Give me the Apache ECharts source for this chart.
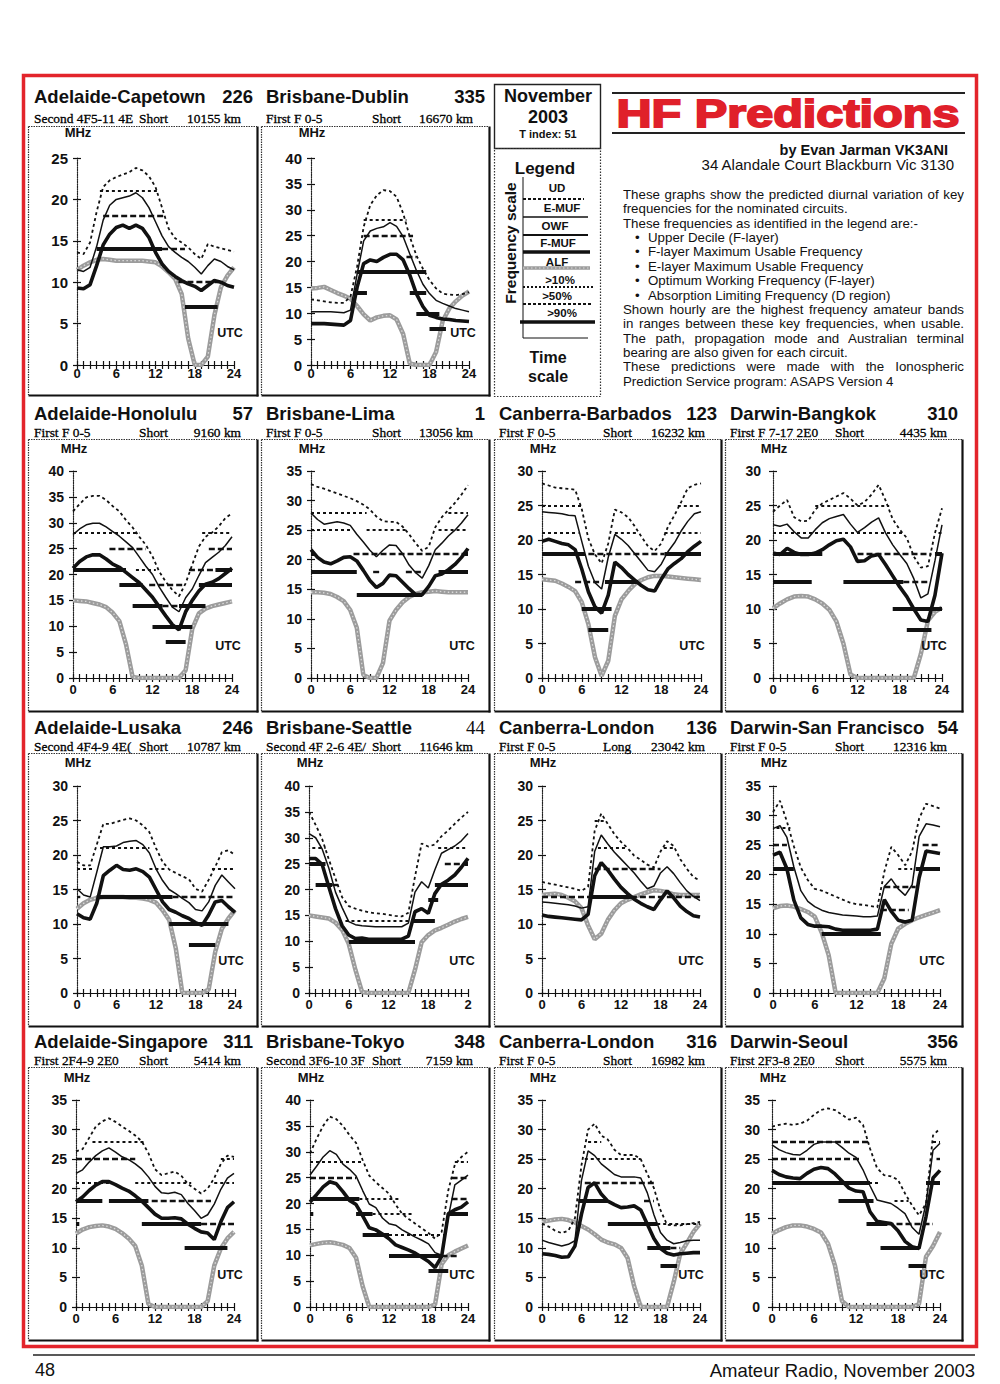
<!DOCTYPE html>
<html>
<head>
<meta charset="utf-8">
<title>HF Predictions</title>
<script src="https://cdn.jsdelivr.net/npm/echarts@6/dist/echarts.min.js"></script>
<style>
html,body{margin:0;padding:0;background:#ffffff;}
#chart{position:absolute;left:0;top:0;width:1000px;height:1384px;}
#notes{position:absolute;left:623px;top:188px;width:341px;font-family:"Liberation Sans",Arial,Helvetica,sans-serif;font-size:13.3px;line-height:14.36px;color:#111;z-index:5;}
#notes div{position:relative;white-space:nowrap;height:14.36px;}
#notes div.j{text-align:justify;text-align-last:justify;white-space:normal;overflow:hidden;}
#notes div.b{padding-left:25px;}
#notes div.b span{position:absolute;left:12px;top:0;}
</style>
</head>
<body>
<div id="chart"></div>
<div id="notes">
<div class="j">These graphs show the predicted diurnal variation of key</div>
<div>frequencies for the nominated circuits.</div>
<div>These frequencies as identified in the legend are:-</div>
<div class="b"><span>•</span>Upper Decile (F-layer)</div>
<div class="b"><span>•</span>F-layer Maximum Usable Frequency</div>
<div class="b"><span>•</span>E-layer Maximum Usable Frequency</div>
<div class="b"><span>•</span>Optimum Working Frequency (F-layer)</div>
<div class="b"><span>•</span>Absorption Limiting Frequency (D region)</div>
<div class="j">Shown hourly are the highest frequency amateur bands</div>
<div class="j">in ranges between these key frequencies, when usable.</div>
<div class="j">The path, propagation mode and Australian terminal</div>
<div>bearing are also given for each circuit.</div>
<div class="j">These predictions were made with the Ionospheric</div>
<div>Prediction Service program: ASAPS Version 4</div>
</div>
<script>
// ---------------- DATA ----------------
const HOURS = [0,1,2,3,4,5,6,7,8,9,10,11,12,13,14,15,16,17,18,19,20,21,22,23,24];
const X_TICK_LABELS = ['0','6','12','18','24'];
const X_TICK_LABELS_SEATTLE = ['0','6','12','18','2'];

const ROUTES = ['Adelaide-Capetown','Brisbane-Dublin','Adelaide-Honolulu','Brisbane-Lima','Canberra-Barbados','Darwin-Bangkok','Adelaide-Lusaka','Brisbane-Seattle','Canberra-London','Darwin-San Francisco','Adelaide-Singapore','Brisbane-Tokyo','Canberra-London','Darwin-Seoul'];
const BEARINGS = ['226','335','57','1','123','310','246','44','136','54','311','348','316','356'];
const MODES = ['Second 4F5-11 4E','First F 0-5','First F 0-5','First F 0-5','First F 0-5','First F 7-17 2E0','Second 4F4-9 4E(','Second 4F 2-6 4E/','First F 0-5','First F 0-5','First 2F4-9 2E0','Second 3F6-10 3F','First F 0-5','First 2F3-8 2E0'];
const PATHS = ['Short','Short','Short','Short','Short','Short','Short','Short','Long','Short','Short','Short','Short','Short'];
const DISTANCES = ['10155 km','16670 km','9160 km','13056 km','16232 km','4435 km','10787 km','11646 km','23042 km','12316 km','5414 km','7159 km','16982 km','5575 km'];
const AXIS_MAX = [25,40,40,35,30,30,30,40,30,35,35,40,35,35];

// band segments: [band MHz, from hour, to hour, level 1=>10% 2=>50% 3=>90%]
const CAPETOWN_UD = [13.6,13.4,14.8,18.5,21.5,22.3,22.7,23,23.3,23.8,23.5,22.8,21.5,19,16.5,15.3,14.8,14.2,13.4,12.8,14.6,14.3,14.1,13.9,13.7];
const CAPETOWN_FMUF = [11.5,11.3,11.8,14.3,17.5,19.3,20,20.2,20.4,20.8,20.2,19,17.3,15.6,14.3,13.6,13,12.5,11.8,11,12,12.8,12.5,11.9,11.5];
const CAPETOWN_OWF = [9.3,9.2,9.7,12,14.5,15.8,16.6,16.9,16.5,16.9,16.5,15.4,13.6,12.2,11.3,10.7,10.2,9.8,9.5,9,9.6,10.2,10,9.6,9.4];
const CAPETOWN_ALF = [11.5,12,12.4,12.7,12.8,12.7,12.6,12.6,12.6,12.6,12.6,12.5,12.4,11.9,11.2,10.4,8.6,3.2,0,0,1,6,9.4,10.8,11.8];
const CAPETOWN_BANDS = [[21,3.5,12.5,1],[18,4,13.5,2],[14,3,13,3],[14,13,16.5,2],[10,15.5,21.5,2],[7,16.5,21.5,3]];

const DUBLIN_UD = [12.7,12.5,12.3,12.1,12,12,13.2,19,26.7,30.9,32.8,33.8,33.6,32.5,29.3,24.8,21.2,18.6,16.4,14.8,13.8,13.6,13.5,13.7,14.1];
const DUBLIN_FMUF = [10.3,10.3,10.3,10.3,10.2,10.1,10.6,17.5,24,25.9,26.4,26.7,27.5,26.8,24.8,21.5,18.3,15.6,13.8,12.5,11.9,11.4,10.9,10.6,10.3];
const DUBLIN_OWF = [8,8,8,7.9,7.8,7.7,8.6,15,19.6,20.3,20,20.8,21.4,21.4,20.3,17.4,13.8,11.3,9.6,9.2,8.9,8.8,8.6,8.5,8.4];
const DUBLIN_ALF = [14.8,14.9,15.1,14.5,13.9,13.4,12.8,11.4,9.8,8.6,9.2,9.5,9.6,8.8,6,0.3,0,0,0,2.5,8.5,10.9,12.3,13.4,14.2];
const DUBLIN_BANDS = [[28,8,14.5,1],[25,8,15.5,2],[21,14.5,16,2],[18,7,17.5,3],[14,6.5,8.5,3],[14,15,17.5,3],[10,16,19.5,3],[7,18,20.5,3]];

const HONOLULU_UD = [32.2,33.6,34.9,35.2,35.2,34.4,33.2,32.2,30.5,29.1,27.3,25.7,23.5,20.6,18.6,17,15.8,18.3,21.9,25.4,27.3,28.1,29.3,30.9,31.8];
const HONOLULU_FMUF = [27.7,28.8,29.6,29.9,29.9,29.2,28.3,27.4,26.3,25.2,23.4,21.6,20,17.6,15.6,13.7,12.8,15.5,17.2,19.8,22.3,23.3,24.3,25.6,27.3];
const HONOLULU_OWF = [21.2,22.5,23.4,23.8,23.8,23,22,21.4,20.4,19.4,18.4,17,15.6,13.8,12,10.3,9.3,12.8,15,16.8,18.1,18.5,19.2,20.2,21.2];
const HONOLULU_ALF = [15,14.9,14.8,14.5,14.2,13.7,12.6,11,6.5,0.2,0,0,0,0,0,0,0,1.5,9.5,12.5,13.4,13.9,14.2,14.5,14.8];
const HONOLULU_BANDS = [[28,0,10,1],[28,19.5,24,1],[25,5.5,11,2],[25,20.5,24,2],[21,0,8,3],[21,9.5,12.5,1],[21,17.5,21.5,2],[21,21.5,24,3],[18,7,10.5,3],[18,11.5,16.5,2],[18,19,24,3],[14,9,13.5,3],[14,13.5,16,2],[14,16,20,3],[10,12,18,3],[7,14,17,3]];

const LIMA_UD = [32.8,32.3,32,31.6,31.2,30.8,30.4,29.9,29.3,28.5,27.3,26.5,26.4,26.4,25.6,24.3,22.8,21.5,22.2,25.5,27.2,28.4,29.6,31,32.6];
const LIMA_FMUF = [27.9,26.8,26,26.2,26.4,26.2,25.8,24.3,23,21.6,20.5,21.6,22.5,22.4,21,19.1,17.8,16.9,19,21.7,22.8,24,25,26.2,27.6];
const LIMA_OWF = [21.7,20.4,19.6,19.3,19.8,20.4,20.5,19.8,18.2,16.5,15.3,16,17.4,17.3,16.2,15.1,14.1,14.1,15.5,17.3,17.6,18.3,19.2,20.4,21.9];
const LIMA_ALF = [14.5,14.5,14.4,14.2,13.7,13,11.5,8.5,0.5,0,0,2.5,9.7,11.5,12.8,13.7,14.2,14.5,14.6,14.7,14.6,14.5,14.5,14.5,14.5];
const LIMA_BANDS = [[28,0,8.5,1],[28,21,24,1],[25,0,6,1],[25,8.5,14.5,1],[25,19.5,24,1],[21,0,0.5,3],[21,6.5,23.5,2],[21,23.5,24,3],[18,0,7,3],[18,9.5,10.5,2],[18,14.5,17,2],[18,19.5,24,3],[14,7,17,3]];

const BARBADOS_UD = [28.2,27.9,27.6,27.5,27.4,27.3,24.5,20.2,17.9,16.6,19.5,24.4,24,23.3,22,20.5,19.1,18.4,19.5,21.9,23.6,25.5,27.5,28,28.2];
const BARBADOS_FMUF = [24.1,24,23.9,23.8,23.6,23.5,19.8,16.2,13.8,12.9,17.5,20.8,20.1,19.2,18,16.8,15.6,15.4,16.5,18.3,19.6,21.3,22.7,23.8,24.1];
const BARBADOS_OWF = [19.8,20.1,19.8,19.5,19.3,18.6,15.8,12.5,10.3,9.4,12,16.8,16,15,14.2,13.4,12.8,12.6,14.3,15.8,16.6,17.3,18.3,19.1,19.8];
const BARBADOS_ALF = [14.3,14.2,14.1,13.7,13.2,12.6,11,7.8,3,0.3,2.5,9,11.4,12.6,13.6,14.2,14.6,14.8,14.8,14.7,14.6,14.5,14.4,14.3,14.2];
const BARBADOS_BANDS = [[25,0,6,1],[25,20.5,24,1],[21,0,5.5,1],[21,11,14.5,1],[21,18.5,24,1],[18,0,6.5,3],[18,7,18.5,2],[18,18.5,24,3],[14,5,9,2],[14,9.5,14.5,3],[10,6,10.5,3],[7,7,10,3]];

const BANGKOK_UD = [24.1,25,25.8,23.3,22.7,22.8,24.4,25.3,25.8,26.3,26.8,26,25,25.5,26.6,28,25.7,23,21.5,20.3,17.6,16,16.2,21,24.6];
const BANGKOK_FMUF = [22.2,22,22.3,21.2,20.3,20.3,21.5,22.5,23.1,23.4,23.7,22.3,21.1,21.8,22.6,23.2,21,19.3,17.9,16.6,14.4,11.6,12.2,17,22.2];
const BANGKOK_OWF = [18.1,17.9,18.8,18.2,17.9,17.9,18.1,18.6,19.3,19.9,20.1,19,16.9,17,17.7,17.9,16.4,14.8,13.2,11.8,10,8.4,8.2,12,18.1];
const BANGKOK_ALF = [10.1,10.8,11.4,11.8,11.9,11.8,11.4,10.8,9.9,8.2,5,0.5,0,0,0,0,0,0,0,0,0,3.5,8.3,9.6,10.2];
const BANGKOK_BANDS = [[25,6,16.5,1],[21,0,18.5,1],[21,23.5,24,1],[18,0,7,3],[18,12,22.5,2],[18,23,24,3],[14,0,5.5,3],[14,10,18.5,3],[14,18.5,22,2],[10,17,24,3],[7,19,22.5,3]];

const LUSAKA_UD = [19,18.5,18.5,21.5,24.5,24.5,24.8,25.1,25.3,25,24.3,23.3,21,19,17.9,17.4,16.9,16.5,15.1,14.7,16.4,18.3,20.4,20.7,20];
const LUSAKA_FMUF = [15.1,14.2,13.9,17.5,21.2,21.2,21.3,21.8,22,22.1,21.5,20.3,18,16.3,15,14.4,13.7,13.1,12.1,11.9,13.2,15.6,17.1,16.1,15.1];
const LUSAKA_OWF = [11.5,10.9,10.7,13,17,17.8,18.5,17.9,17.8,18,17.6,16.8,15,13.2,12.1,11.7,11.2,10.8,10.2,9.8,11.3,13.2,13.4,12.5,11.7];
const LUSAKA_ALF = [12.2,13,13.5,13.8,13.9,13.9,13.9,13.9,13.8,13.8,13.7,13.5,13.1,12,10.6,6.5,0,0,0,0,0.5,6,9.3,10.8,12];
const LUSAKA_BANDS = [[21,3.5,11,1],[18,0,2.5,1],[18,11,13.5,1],[18,20.5,24,1],[14,0,0.5,2],[14,3,14.5,3],[14,14.5,24,2],[10,14,23,3],[7,17,21,3]];

const SEATTLE_UD = [35,32.5,29.7,25.8,22.1,18.5,16.8,16.3,15.9,15.6,15.4,15.3,15.1,14.9,14.8,15.5,22.5,28.9,28.3,28.7,30.3,31.4,32.7,33.9,35];
const SEATTLE_FMUF = [30.8,30,27.8,24.1,19.5,16.5,13.8,13.2,13,12.9,12.8,12.8,12.8,12.8,12.8,13.5,19.5,21.5,20.3,23.8,27,27.7,28.4,29.4,30.8];
const SEATTLE_OWF = [26,26,24.8,20.5,16.3,13,11.2,10.5,10.6,10.4,10.4,10.4,10.4,10.4,10.4,11,15.7,16.3,15.4,19.2,21,21.8,22.8,24.3,26];
const SEATTLE_ALF = [15,14.8,14.6,14.4,13.6,12.2,9.5,4.5,0.2,0,0,0,0,0,0,0,4.5,9.8,11.2,12.1,12.6,13.2,13.8,14.3,14.7];
const SEATTLE_BANDS = [[28,0.5,2.5,1],[28,19.5,24,1],[25,0,2.5,3],[25,20.5,23.5,2],[25,23.5,24,3],[21,1,3.5,3],[21,3.5,4.5,2],[21,19,24,3],[18,18,19.5,3],[14,5.5,15.5,1],[14,15.5,19,3],[10,6,16,3]];

const LONDON_LP_UD = [16.1,15.9,15.7,15.5,15.3,15.1,14.8,15.4,23.5,26,24.5,23,21.9,21,19.9,19.3,18.6,18.2,20.5,22,21.3,19.4,18,16.8,16.3];
const LONDON_LP_FMUF = [13.2,13.1,13,12.9,12.8,12.6,12.3,12.5,20.5,22.9,21.6,20.4,19.4,18.4,17.4,16.2,15.1,15.5,17.4,18.3,17.3,16,14.8,14,13.4];
const LONDON_LP_OWF = [11.3,11.1,11,10.9,10.8,10.7,10.6,11.4,17,18.9,17.8,16.5,15.3,14.4,13.6,13,12.5,12.1,13.5,14.8,13.8,12.6,11.8,11.2,11];
const LONDON_LP_ALF = [14.2,14.3,14.4,14.2,13.8,13.3,12.3,9.8,7.8,8.6,10.6,12,13,13.5,13.9,14.3,14.6,14.9,14.8,14.6,14.3,14.2,14.2,14.2,14.2];
const LONDON_LP_BANDS = [[25,8,9.5,1],[21,8.5,13,1],[21,18.5,20,1],[18,8,18,2],[14,0,7.5,2],[14,7.5,13.5,3],[14,13.5,24,2]];

const SANFRAN_UD = [30.6,32.5,29,24.8,21.2,19.1,17.6,17.3,16.8,16.3,15.8,15.3,15,14.9,14.7,14.5,20.5,24.7,23.3,21.6,24,29.5,32,31.6,31.2];
const SANFRAN_FMUF = [27.8,28.3,26.3,21.3,17.3,15.5,14.6,14,13.6,13.4,13.2,13.1,13,12.9,12.9,13,18,19.3,17.6,16.5,18.3,26.5,28.6,28.4,28.1];
const SANFRAN_OWF = [23.3,23.8,21,15.7,12.7,11.6,11.3,11.3,11.2,10.8,10.6,10.6,10.6,10.6,10.6,10.8,15.8,13.8,12.3,12,12.3,19.5,24,23.8,23.6];
const SANFRAN_ALF = [14.3,14.7,14.8,14.6,14.2,13.7,12.9,10.2,6.4,0,0,0,0,0,0,0,2.5,8.3,10.9,11.7,12.3,12.8,13.2,13.6,14];
const SANFRAN_BANDS = [[28,0.5,2.5,1],[25,0,2,2],[25,21.5,24,2],[21,0,3,3],[21,18,20,1],[21,20.5,24,3],[18,16,20.5,2],[14,15.5,19.5,2],[10,7,15.5,3]];

const SINGAPORE_UD = [26.3,26.7,28.6,30.5,31.4,31.9,31.3,30.5,29.8,29,28,26,23.3,22.3,22.6,22.9,22.2,20.8,20,19.2,20,21.8,24.2,25.6,25.4];
const SINGAPORE_FMUF = [22.6,23.2,24.5,25.6,26.4,26.9,26.2,25.4,24.9,24.2,23.3,22,20.4,19.3,19.2,19.4,19,17.5,16.3,15,15.6,17.4,19.9,21.8,22.6];
const SINGAPORE_OWF = [17.8,18.6,19.7,20.6,21.2,21.2,20.7,20.1,19.6,18.8,17.9,16.8,15.7,15,15,15.1,14.9,14,13.3,12.7,12.5,11.4,14.4,16.8,17.8];
const SINGAPORE_ALF = [12.4,13.1,13.5,13.7,13.8,13.6,13.2,12.5,11.6,10.3,7,0.5,0,0,0,0,0,0,0,0,1,7,9.9,11.6,12.7];
const SINGAPORE_BANDS = [[28,2.5,10.5,1],[25,0,9,2],[25,22,24,1],[21,0,5,1],[21,9,17.5,1],[21,21,24,1],[18,0,4,3],[18,5,11,3],[18,11.5,20.5,2],[14,0,0.5,3],[14,10,19,3],[14,19,24,2],[10,16.5,23,3]];

const TOKYO_UD = [29.7,32.5,35,36.8,36.3,35,33.2,31.7,28.4,25.4,24.1,23,21.9,19.8,18,17,16.1,15.2,14.3,13.2,14.5,22.5,27.5,29,30];
const TOKYO_FMUF = [25.5,27.2,29,30.2,29.5,27.6,26.6,25.3,22.5,19.9,19.2,17.2,16.1,15.8,14.9,14.2,13.5,12.9,12.2,10.5,10,17.3,23.6,24.5,25.5];
const TOKYO_OWF = [20.3,21.7,23.2,24.2,23.8,22.3,20.6,19.8,17.6,15.3,14.9,14.1,13.2,12,11.5,11,10.4,9.6,8.8,7.6,9.8,18,18.8,19.3,20.3];
const TOKYO_ALF = [11.9,12.2,12.4,12.5,12.3,12,11.4,9.5,4,0,0,0,0,0,0,0,0,0,0,0.5,8.3,10,10.7,11.3,11.9];
const TOKYO_BANDS = [[28,0,8,1],[28,22,24,1],[25,0,7,2],[25,21.5,24,2],[21,0,7.5,3],[21,7.5,13.5,1],[21,21.5,24,2],[18,0,0.5,3],[18,7,9.5,3],[18,9.5,15.5,1],[18,21,24,3],[14,8,12,3],[14,12,20.5,1],[10,12,20,3],[10,20,22.5,2],[7,18,21,3]];

const LONDON_SP_UD = [14.1,13.6,12.9,12.5,12.9,15,24,30,31,29,28.3,26.6,25.7,25.7,25.7,25,22.5,20.1,16.4,13.9,13.8,13.8,14,14.2,14.4];
const LONDON_SP_FMUF = [11.3,10.9,10.6,10.3,10.6,11.2,21.4,26.4,25.6,24.2,23.3,22.4,22,22,22,21.8,19.3,15.6,12.6,11.3,10.7,10.9,11.2,11.3,11.3];
const LONDON_SP_OWF = [9,8.9,8.7,8.4,8.5,10.3,15.7,20.2,21,19.1,17.9,17.3,16.8,16.9,17.1,16.4,14,11.6,9.9,9.1,8.8,9,9.1,9.2,9.2];
const LONDON_SP_ALF = [14.4,14.6,14.8,14.9,14.7,14.3,13.7,13.1,12.3,11.4,10.9,10.6,10,8.3,3.5,0,0,0,0,0,4.2,9,10.8,12.7,14.1];
const LONDON_SP_BANDS = [[28,7,9,1],[25,6.5,15,1],[21,6.5,17,2],[18,5.5,10,3],[18,15.5,17,2],[14,10,17.5,3],[14,17.5,24,1],[10,16,19.5,3],[10,19.5,21,2],[7,18,20.5,3]];

const SEOUL_UD = [30.5,30.8,31,30.8,31,31.5,32.5,33.3,33.6,33.3,32.5,31.7,32,30.8,26.8,23.5,22.3,22.1,21.5,19.2,17.2,15.5,17.5,29,30.2];
const SEOUL_FMUF = [27.4,26.6,26.1,25.8,25.7,26.5,27.5,27.9,27.9,27.9,27,26,25.3,23.2,20.5,18.1,17.8,17.5,16.7,15.8,13.5,12.3,17.5,26.5,27.7];
const SEOUL_OWF = [23.1,22.4,22,21.8,21.7,22.6,23.3,23.6,23.4,22.5,21.3,20.1,19.6,19.5,16.1,14.5,14.3,14.1,12.9,11.1,10.2,9.9,15.3,21.8,23.1];
const SEOUL_ALF = [12.4,13,13.5,13.8,13.8,13.6,13.2,12.6,10.7,7,1,0,0,0,0,0,0,0,0,0,0,0.5,8.5,10.3,12.7];
const SEOUL_BANDS = [[28,0,14,2],[28,23,24,1],[25,0,12.5,2],[25,23.5,24,2],[21,0,14,3],[21,13,15.5,1],[21,22,24,3],[18,9.5,14.5,3],[18,17.5,19.5,1],[14,13.5,16.5,3],[14,16.5,23,2],[10,15.5,21,3],[7,19.5,22,3]];

// ---------------- TABLE built from the arrays ----------------
const UD_SET = [CAPETOWN_UD,DUBLIN_UD,HONOLULU_UD,LIMA_UD,BARBADOS_UD,BANGKOK_UD,LUSAKA_UD,SEATTLE_UD,LONDON_LP_UD,SANFRAN_UD,SINGAPORE_UD,TOKYO_UD,LONDON_SP_UD,SEOUL_UD];
const FMUF_SET = [CAPETOWN_FMUF,DUBLIN_FMUF,HONOLULU_FMUF,LIMA_FMUF,BARBADOS_FMUF,BANGKOK_FMUF,LUSAKA_FMUF,SEATTLE_FMUF,LONDON_LP_FMUF,SANFRAN_FMUF,SINGAPORE_FMUF,TOKYO_FMUF,LONDON_SP_FMUF,SEOUL_FMUF];
const OWF_SET = [CAPETOWN_OWF,DUBLIN_OWF,HONOLULU_OWF,LIMA_OWF,BARBADOS_OWF,BANGKOK_OWF,LUSAKA_OWF,SEATTLE_OWF,LONDON_LP_OWF,SANFRAN_OWF,SINGAPORE_OWF,TOKYO_OWF,LONDON_SP_OWF,SEOUL_OWF];
const ALF_SET = [CAPETOWN_ALF,DUBLIN_ALF,HONOLULU_ALF,LIMA_ALF,BARBADOS_ALF,BANGKOK_ALF,LUSAKA_ALF,SEATTLE_ALF,LONDON_LP_ALF,SANFRAN_ALF,SINGAPORE_ALF,TOKYO_ALF,LONDON_SP_ALF,SEOUL_ALF];
const BAND_SET = [CAPETOWN_BANDS,DUBLIN_BANDS,HONOLULU_BANDS,LIMA_BANDS,BARBADOS_BANDS,BANGKOK_BANDS,LUSAKA_BANDS,SEATTLE_BANDS,LONDON_LP_BANDS,SANFRAN_BANDS,SINGAPORE_BANDS,TOKYO_BANDS,LONDON_SP_BANDS,SEOUL_BANDS];

// ---------------- LAYOUT (positions only) ----------------
const SANS = '"Liberation Sans", Arial, Helvetica, sans-serif';
const SERIF = '"Liberation Serif", "Times New Roman", serif';
const PANEL_RC = [[0,0],[0,1],[1,0],[1,1],[1,2],[1,3],[2,0],[2,1],[2,2],[2,3],[3,0],[3,1],[3,2],[3,3]];
const GRID_LW = [[77,157],[311,158],[73,159],[311,157],[542,159],[773,169],[77,158],[309,159],[542,158],[773,167],[76,158],[310,158],[542,158],[772,168]];
const GRID_TOP = [158,471,786,1100];
const GRID_H = 207;
const BOX_X = [28,261,494,725], BOX_W = [229,228,227,237];
const BOX_Y = [126,439,753,1067], BOX_H = [269,272,273,273];
const TITLE_X = [34,266,499,730], NUM_R = [253,485,717,958], PATH_X = [139,372,603,835], KM_R = [241,473,705,947];
const TITLE_Y = [96,413,727,1041], SUB_Y = [118,432,746,1060];
const MHZ_DY = [26,23,24,23];
const UTC_DX = [-4,-6,-9,-8];

const BAND_STYLE = {
  1: {color:'#111', width:2, type:[3,3]},
  2: {color:'#111', width:2.4, type:[6,3]},
  3: {color:'#111', width:4, type:'solid'}
};

const G = [];
function T(x, y, text, font, align, extra) {
  const el = {type:'text', x:x, y:y, z:50, silent:true,
    style:{text:text, font:font, fill:'#111', align:align||'left', verticalAlign:'middle', textAlign:align||'left', textVerticalAlign:'middle'}};
  if (extra) { Object.assign(el, extra.el||{}); Object.assign(el.style, extra.style||{}); }
  G.push(el);
}
function L(x1,y1,x2,y2,style,z) {
  G.push({type:'line', silent:true, z:z||10, shape:{x1:x1,y1:y1,x2:x2,y2:y2}, style:Object.assign({stroke:'#111', lineWidth:1}, style||{})});
}
function R(x,y,w,h,style,z) {
  G.push({type:'rect', silent:true, z:z||1, shape:{x:x,y:y,width:w,height:h}, style:Object.assign({fill:'none', stroke:'#222', lineWidth:1}, style||{})});
}

const grids = [], xAxes = [], yAxes = [], series = [];
for (let i = 0; i < ROUTES.length; i++) {
  const r = PANEL_RC[i][0], c = PANEL_RC[i][1];
  const gl = GRID_LW[i][0], gw = GRID_LW[i][1], gt = GRID_TOP[r];
  grids.push({left:gl, top:gt, width:gw, height:GRID_H, containLabel:false});
  const labs = (i === 7) ? X_TICK_LABELS_SEATTLE : X_TICK_LABELS;
  xAxes.push({type:'value', gridIndex:i, min:0, max:24, interval:1, position:'bottom',
    axisLine:{show:true, onZero:false, lineStyle:{color:'#111', width:1.2}},
    axisTick:{show:true, length:4, lineStyle:{color:'#111', width:1.2}},
    axisLabel:{show:true, margin:(r===0?2:5), color:'#111', fontFamily:SANS, fontWeight:'bold', fontSize:13,
      formatter:function(v){ return (v % 6 === 0) ? labs[v/6] : ''; }},
    splitLine:{show:false}});
  xAxes.push({type:'value', gridIndex:i, min:0, max:24, interval:1, position:'bottom',
    axisLine:{show:false}, axisTick:{show:true, inside:true, length:4, lineStyle:{color:'#111', width:1.2}},
    axisLabel:{show:false}, splitLine:{show:false}});
  yAxes.push({type:'value', gridIndex:i, min:0, max:AXIS_MAX[i], interval:5, position:'left',
    axisLine:{show:true, onZero:false, lineStyle:{color:'#222', width:1.2, type:'dotted'}},
    axisTick:{show:true, length:4, lineStyle:{color:'#111', width:1.2}},
    axisLabel:{margin:(c===3?12:9), color:'#111', fontFamily:SANS, fontWeight:'bold', fontSize:(r===0?15:14)},
    splitLine:{show:false}});
  yAxes.push({type:'value', gridIndex:i, min:0, max:AXIS_MAX[i], interval:5, position:'left',
    axisLine:{show:false}, axisTick:{show:true, inside:true, length:4, lineStyle:{color:'#111', width:1.2}},
    axisLabel:{show:false}, splitLine:{show:false}});

  const xi = 2*i, yi = 2*i;
  const pts = function(arr){ return HOURS.map(function(h,k){ return [h, arr[k]]; }); };
  const base = {type:'line', xAxisIndex:xi, yAxisIndex:yi, symbol:'none', silent:true, smooth:false, animation:false};
  series.push(Object.assign({}, base, {name:'ALF', z:2, data:pts(ALF_SET[i]), lineStyle:{color:'#9c9c9c', width:4.5}}));
  series.push(Object.assign({}, base, {name:'ALF texture', z:3, data:pts(ALF_SET[i]), lineStyle:{color:'#dadada', width:1.3, type:[1.5,2.5]}}));
  series.push(Object.assign({}, base, {name:'UD', z:4, data:pts(UD_SET[i]), lineStyle:{color:'#111', width:1.8, type:[3,3]}}));
  series.push(Object.assign({}, base, {name:'F-MUF', z:5, data:pts(FMUF_SET[i]), lineStyle:{color:'#111', width:1.5},
    markLine:{silent:true, symbol:['none','none'], animation:false, label:{show:false},
      lineStyle:{color:'#111', width:2, type:'solid'},
      data: BAND_SET[i].map(function(b){ return [{coord:[b[1], b[0]], lineStyle:BAND_STYLE[b[3]]}, {coord:[b[2], b[0]]}]; })}}));
  series.push(Object.assign({}, base, {name:'OWF', z:6, data:pts(OWF_SET[i]), lineStyle:{color:'#111', width:3.6}}));

  // panel frame: dotted top/left, solid heavier right/bottom
  const bx = BOX_X[c], by = BOX_Y[r], bw = BOX_W[c], bh = BOX_H[r];
  L(bx+0.5, by+0.5, bx+bw, by+0.5, {stroke:'#333', lineWidth:1.2, lineDash:[1.5,1]}, 1);
  L(bx+0.5, by+0.5, bx+0.5, by+bh, {stroke:'#333', lineWidth:1.2, lineDash:[1.5,1]}, 1);
  L(bx+bw+0.5, by+0.5, bx+bw+0.5, by+bh+1.5, {stroke:'#111', lineWidth:2.2}, 1);
  L(bx+0.5, by+bh+0.5, bx+bw+1.5, by+bh+0.5, {stroke:'#111', lineWidth:2.2}, 1);
  // texts
  T(TITLE_X[c], TITLE_Y[r], ROUTES[i], 'bold 18.5px ' + SANS, 'left');
  T(NUM_R[c], TITLE_Y[r], BEARINGS[i], (i===7 ? '19px ' + SERIF : 'bold 18.5px ' + SANS), 'right');
  const subStyle = {style:{fill:'#000', stroke:'#000', lineWidth:0.3}};
  T(TITLE_X[c], SUB_Y[r], MODES[i], '13.4px ' + SERIF, 'left', subStyle);
  T(PATH_X[c], SUB_Y[r], PATHS[i], '13.4px ' + SERIF, 'left', subStyle);
  T(KM_R[c], SUB_Y[r], DISTANCES[i], '13.4px ' + SERIF, 'right', subStyle);
  T(gl + 1, gt - MHZ_DY[r], 'MHz', 'bold 13px ' + SANS, 'center');
  T(gl + gw + UTC_DX[c], gt + GRID_H - 32, 'UTC', 'bold 12.5px ' + SANS, 'center');
}

// red page border and footer
R(23.5, 75.5, 953, 1271, {stroke:'#e3242b', lineWidth:3.5}, 20);
L(33, 1355, 975, 1355, {stroke:'#222', lineWidth:1.5});
T(35, 1370, '48', '18px ' + SANS, 'left');
T(975, 1370, 'Amateur Radio, November 2003', '18.5px ' + SANS, 'right');

// legend box
R(494.5, 84.5, 106, 64, {stroke:'#222', lineWidth:1.4});
R(494.5, 148.5, 106, 248, {stroke:'#333', lineWidth:1.2, lineDash:[1.5,1.5]});
T(548, 96, 'November', 'bold 18px ' + SANS, 'center');
T(548, 117, '2003', 'bold 18px ' + SANS, 'center');
T(548, 134, 'T index: 51', 'bold 11px ' + SANS, 'center');
T(545, 168, 'Legend', 'bold 17px ' + SANS, 'center');
T(510, 243, 'Frequency scale', 'bold 15.5px ' + SANS, 'center', {el:{rotation:Math.PI/2}});
L(523, 177, 523, 338, {stroke:'#111', lineWidth:1});
L(523, 338, 588, 338, {stroke:'#111', lineWidth:1});
const LEG_FONT = 'bold 11.5px ' + SANS;
T(557, 188, 'UD', LEG_FONT, 'center');
L(523, 199, 584, 199, {stroke:'#111', lineWidth:2, lineDash:[3,2]});
T(562, 208, 'E-MUF', LEG_FONT, 'center');
L(523, 217, 588, 217, {stroke:'#111', lineWidth:1.5});
T(555, 226, 'OWF', LEG_FONT, 'center');
L(523, 235, 588, 235, {stroke:'#111', lineWidth:2});
T(558, 243, 'F-MUF', LEG_FONT, 'center');
L(523, 252, 590, 252, {stroke:'#111', lineWidth:3.5});
T(557, 262, 'ALF', LEG_FONT, 'center');
L(523, 268, 590, 268, {stroke:'#9c9c9c', lineWidth:3.5});
L(523, 268, 590, 268, {stroke:'#dadada', lineWidth:1.2, lineDash:[1.5,2.5]});
T(560, 280, '>10%', LEG_FONT, 'center');
L(523, 287, 593, 287, {stroke:'#111', lineWidth:2, lineDash:[2,2]});
T(557, 296, '>50%', LEG_FONT, 'center');
L(523, 304, 593, 304, {stroke:'#111', lineWidth:2.2, lineDash:[3,2]});
T(562, 313, '>90%', LEG_FONT, 'center');
L(520, 322, 595, 322, {stroke:'#111', lineWidth:3.5});
T(548, 357, 'Time', 'bold 16px ' + SANS, 'center');
T(548, 376, 'scale', 'bold 16px ' + SANS, 'center');

// header block
L(612, 93, 965, 93, {stroke:'#222', lineWidth:2});
T(788, 114, 'HF Predictions', 'bold 38px ' + SANS, 'center', {el:{scaleX:1.28}, style:{fill:'#e0202a', stroke:'#e0202a', lineWidth:1.8}});
L(612, 133, 965, 133, {stroke:'#222', lineWidth:2});
T(948, 150, 'by Evan Jarman VK3ANI', 'bold 14.5px ' + SANS, 'right');
T(954, 164, '34 Alandale Court Blackburn Vic 3130', '15px ' + SANS, 'right');

const chart = echarts.init(document.getElementById('chart'), null, {renderer:'svg', width:1000, height:1384});
chart.setOption({
  animation:false,
  backgroundColor:'#ffffff',
  textStyle:{fontFamily:SANS},
  grid:grids, xAxis:xAxes, yAxis:yAxes, series:series,
  graphic:{elements:G}
});
</script>
</body>
</html>
